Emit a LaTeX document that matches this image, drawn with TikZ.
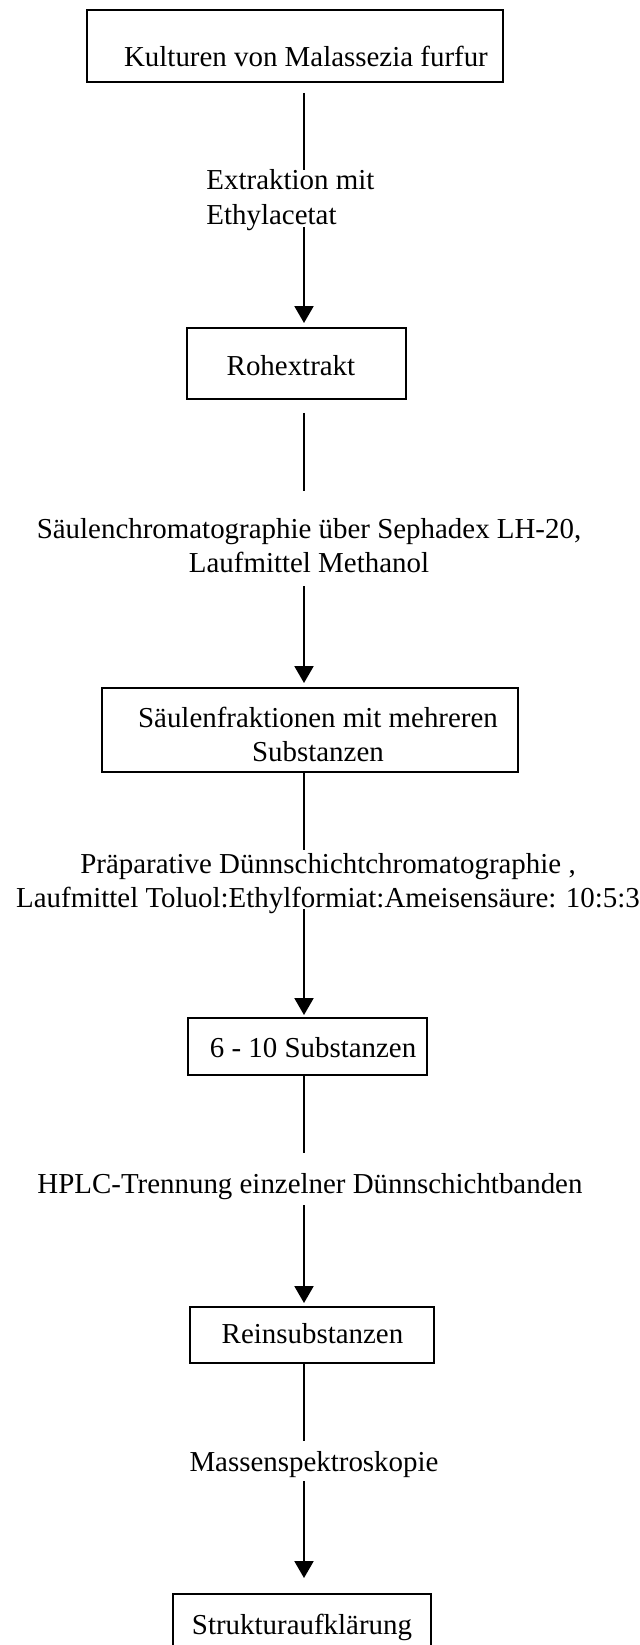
\documentclass[tikz,border=0pt]{standalone}
\usepackage{fontspec}
\setmainfont{Liberation Serif}
\usetikzlibrary{arrows.meta}
\newcommand\btxt[3]{\raisebox{#2}[\height][\depth]{\hspace*{#1}\begin{tabular}{@{}c@{}}#3\end{tabular}}}
\begin{document}
\begin{tikzpicture}[x=0.415pt,y=-0.415pt,
  box/.style={draw,line width=0.6pt,inner sep=0pt,font=\fontsize{12}{14.3}\selectfont},
  lab/.style={inner sep=0pt,font=\fontsize{12}{14.3}\selectfont},
  conn/.style={line width=0.7pt},
  arr/.style={conn,-{Triangle[width=7.9pt,length=7pt]}}]
\useasboundingbox (0,0) rectangle (640,1645);

% boxes
\node[box,minimum width=416*0.415pt,minimum height=72*0.415pt] (b1) at (295,46)
  {\btxt{9.1pt}{-5.8pt}{Kulturen von Malassezia furfur}};
\node[box,minimum width=219*0.415pt,minimum height=71*0.415pt] (b2) at (296.5,363.5)
  {\btxt{-4.6pt}{-2.3pt}{Rohextrakt}};
\node[box,minimum width=416*0.415pt,minimum height=84*0.415pt] (b3) at (310,730)
  {\btxt{6.6pt}{-3.1pt}{Säulenfraktionen mit mehreren\\Substanzen}};
\node[box,minimum width=239*0.415pt,minimum height=57*0.415pt] (b4) at (307.5,1046.5)
  {\btxt{4.6pt}{-1.5pt}{6 - 10 Substanzen}};
\node[box,minimum width=244*0.415pt,minimum height=56*0.415pt] (b5) at (312,1335)
  {\btxt{0.4pt}{-0.8pt}{Reinsubstanzen}};
\node[box,minimum width=258*0.415pt,minimum height=68*0.415pt] (b6) at (302,1628)
  {\btxt{0pt}{0pt}{Strukturaufklärung}};

% labels
\node[lab,anchor=west,align=left] (l1) at (206,200) {Extraktion mit\\Ethylacetat};
\node[lab,align=center] (l2) at (309,545.5) {Säulenchromatographie über Sephadex LH-20,\\Laufmittel Methanol};
\node[lab,align=center] (l3) at (328,883.5) {Präparative Dünnschichtchromatographie ,\\Laufmittel Toluol:Ethylformiat:Ameisensäure: 10:5:3};
\node[lab] (l4) at (310,1187) {HPLC-Trennung einzelner Dünnschichtbanden};
\node[lab] (l5) at (314,1465) {Massenspektroskopie};

% connector end points
\coordinate (c1a) at (304,93);   \coordinate (c1b) at (304,170);
\coordinate (c2a) at (304,227);  \coordinate (c2b) at (304,323);
\coordinate (c3a) at (304,413);  \coordinate (c3b) at (304,491);
\coordinate (c4a) at (304,586);  \coordinate (c4b) at (304,683);
\coordinate (c5b) at (304,850);
\coordinate (c6a) at (304,909);  \coordinate (c6b) at (304,1015);
\coordinate (c7b) at (304,1153);
\coordinate (c8a) at (304,1205); \coordinate (c8b) at (304,1303);
\coordinate (c9b) at (304,1441);
\coordinate (c10a) at (304,1481); \coordinate (c10b) at (304,1578);

\draw[conn] (c1a) -- (c1b);
\draw[arr] (c2a) -- (c2b);
\draw[conn] (c3a) -- (c3b);
\draw[arr] (c4a) -- (c4b);
\draw[conn] (b3.south -| c5b) -- (c5b);
\draw[arr] (c6a) -- (c6b);
\draw[conn] (b4.south -| c7b) -- (c7b);
\draw[arr] (c8a) -- (c8b);
\draw[conn] (b5.south -| c9b) -- (c9b);
\draw[arr] (c10a) -- (c10b);
\end{tikzpicture}
\end{document}
